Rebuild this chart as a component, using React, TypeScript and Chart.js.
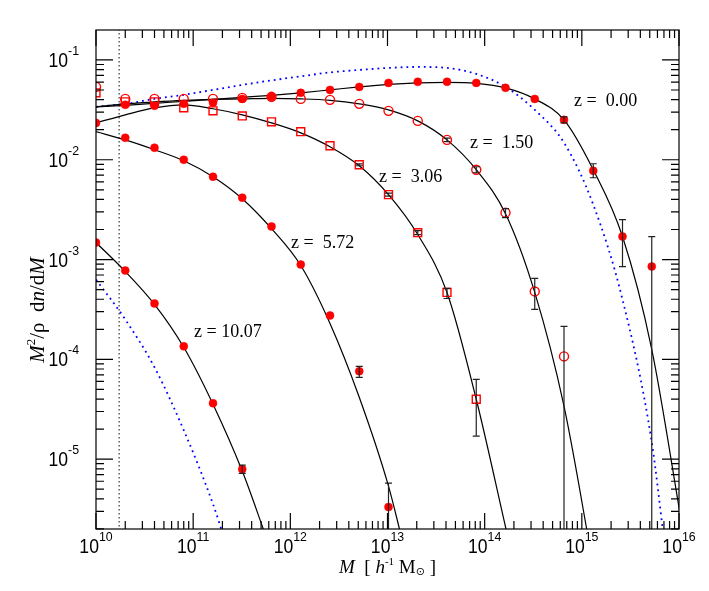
import React, { useEffect, useRef } from 'react';
import { Chart, registerables } from 'chart.js';

Chart.register(...registerables);

// ---------- data ----------
const massBins = [1e10, 2e10, 4e10, 8e10, 1.6e11, 3.2e11, 6.4e11, 1.28e12, 2.56e12, 5.12e12, 1.024e13, 2.048e13, 4.096e13, 8.192e13, 1.6384e14, 3.2768e14, 6.5536e14, 1.31072e15, 2.62144e15, 5.24288e15, 1.048576e16];

// simulation points (aligned with massBins)
const simZ000 = [null, 0.0355, 0.0347, 0.0363, 0.0372, 0.0407, 0.0427, 0.0468, 0.0501, 0.0537, 0.0589, 0.0603, 0.0603, 0.0589, 0.0525, 0.0407, 0.0251, 0.00776, 0.0017, 0.000851, null];
const simZ150 = [0.0537, 0.0407, 0.0407, 0.0407, 0.0407, 0.0417, 0.0427, 0.0407, 0.0398, 0.0363, 0.0309, 0.0245, 0.0158, 0.00794, 0.00295, 0.000479, 0.000107, null, null, null, null];
const simZ306 = [0.0468, 0.038, 0.038, 0.0331, 0.0309, 0.0275, 0.024, 0.0191, 0.0138, 0.00891, 0.00447, 0.00186, 0.000468, 0.0000398, null, null, null, null, null, null, null];
const simZ572 = [0.0234, 0.0166, 0.0132, 0.01, 0.00676, 0.00417, 0.00214, 0.000891, 0.000275, 0.0000759, 0.00000331, null, null, null, null, null, null, null, null, null, null];
const simZ1007 = [0.00148, 0.000776, 0.000363, 0.000135, 0.0000363, 0.00000794, null, null, null, null, null, null, null, null, null, null, null, null, null, null, null];

// error bars: [bin index, low, high]
const errZ000: [number, number, number][] = [[16, 0.0234, 0.0269], [17, 0.0066, 0.00912], [18, 0.000851, 0.00251], [19, 1e-9, 0.0017]];
const errZ150: [number, number, number][] = [[12, 0.0152, 0.0165], [13, 0.00741, 0.00851], [14, 0.00263, 0.00324], [15, 0.000316, 0.000646], [16, 1e-9, 0.000214]];
const errZ306: [number, number, number][] = [[9, 0.0087, 0.0091], [10, 0.00432, 0.00462], [11, 0.00178, 0.00195], [12, 0.000407, 0.000513], [13, 0.000017, 0.0000631]];
const errZ572: [number, number, number][] = [[9, 0.000066, 0.000085], [10, 1e-9, 0.00000575]];
const errZ1007: [number, number, number][] = [[5, 0.0000072, 0.0000087]];

// model curves (solid black)
const fitMassZ000 = massBins;
const fitZ000 = [0.0339, 0.0351, 0.0367, 0.0385, 0.0403, 0.0422, 0.0442, 0.0468, 0.0501, 0.0537, 0.0569, 0.0589, 0.0596, 0.0582, 0.0525, 0.0407, 0.0251, 0.00794, 0.0017, 0.000126, 0.00000251];
const fitMassZ150 = [1e10, 2e10, 4e10, 8e10, 1.6e11, 3.2e11, 6.4e11, 1.28e12, 2.56e12, 5.12e12, 1.024e13, 2.048e13, 4.096e13, 8.192e13, 1.6384e14, 3.2768e14, 6.5536e14, 1.31072e15];
const fitZ150 = [0.0339, 0.0363, 0.038, 0.0394, 0.0403, 0.0407, 0.0412, 0.0407, 0.0394, 0.0363, 0.0316, 0.0245, 0.0158, 0.00794, 0.00288, 0.000468, 0.0000339, 0.00000085];
const fitMassZ306 = [1e10, 2e10, 4e10, 8e10, 1.6e11, 3.2e11, 6.4e11, 1.28e12, 2.56e12, 5.12e12, 1.024e13, 2.048e13, 4.096e13, 8.192e13, 1.6384e14, 3.2768e14];
const fitZ306 = [0.0234, 0.0282, 0.0331, 0.0355, 0.0324, 0.0282, 0.0234, 0.0186, 0.0135, 0.00871, 0.00447, 0.00178, 0.000468, 0.0000398, 0.0000021, 0.00000011];
const fitMassZ572 = [1e10, 2e10, 4e10, 8e10, 1.6e11, 3.2e11, 6.4e11, 1.28e12, 2.56e12, 5.12e12, 1.024e13, 1.41e13];
const fitZ572 = [0.0191, 0.0158, 0.0126, 0.00977, 0.00676, 0.00407, 0.00204, 0.000871, 0.000229, 0.0000417, 0.00000537, 0.00000158];
const fitMassZ1007 = [1e10, 2e10, 4e10, 8e10, 1.6e11, 3.2e11, 5.5e11];
const fitZ1007 = [0.00148, 0.000759, 0.000355, 0.000132, 0.0000355, 0.00000759, 0.00000178];

// Press-Schechter curves (blue dotted)
const psMassZ000 = [1e10, 2e10, 4e10, 8e10, 1.6e11, 3.2e11, 6.4e11, 1.28e12, 2.56e12, 5.12e12, 1.024e13, 2.048e13, 4.096e13, 8.192e13, 1.6384e14, 3.2768e14, 6.5536e14, 1.31072e15, 2.62144e15, 5.24288e15, 7e15];
const psZ000 = [0.0339, 0.0363, 0.0407, 0.0447, 0.0501, 0.0562, 0.0624, 0.0684, 0.075, 0.0794, 0.0832, 0.0851, 0.0832, 0.0724, 0.0537, 0.0316, 0.0148, 0.00355, 0.000398, 0.0000148, 0.00000158];
const psMassZ1007 = [1e10, 2e10, 4e10, 8e10, 1.6e11, 2.1e11];
const psZ1007 = [0.000631, 0.000251, 0.0000832, 0.0000195, 0.00000355, 0.00000158];

// resolution limit (vertical dotted line)
const resolutionMass = 1.73e10;

// axes
const xMin = 1e10;
const xMax = 1e16;
const yMin = 1.995e-6;
const yMax = 0.1995;
const xMajorTicks = [1e10, 1e11, 1e12, 1e13, 1e14, 1e15, 1e16];
const xTickExponents = ['10', '11', '12', '13', '14', '15', '16'];
const yMajorTicks = [1e-5, 1e-4, 1e-3, 1e-2, 1e-1];
const yTickExponents = ['-5', '-4', '-3', '-2', '-1'];
const yMinorDecades = [1e-6, 1e-5, 1e-4, 1e-3, 1e-2, 1e-1];
const minorMultipliers = [2, 3, 4, 5, 6, 7, 8, 9];

const redshiftLabels = ['z =  0.00', 'z =  1.50', 'z =  3.06', 'z =  5.72', 'z = 10.07'];

// ---------- helpers ----------
type Seg = { t: string; f: string; dy?: number; sx?: number };

function richWidth(ctx: CanvasRenderingContext2D, segs: Seg[]) {
  let w = 0;
  for (const s of segs) {
    ctx.font = s.f;
    w += ctx.measureText(s.t).width * (s.sx ?? 1);
  }
  return w;
}

function drawRich(ctx: CanvasRenderingContext2D, segs: Seg[], x: number, y: number, align: 'left' | 'center' | 'right') {
  const w = richWidth(ctx, segs);
  let cx = align === 'left' ? x : align === 'center' ? x - w / 2 : x - w;
  for (const s of segs) {
    ctx.font = s.f;
    const sx = s.sx ?? 1;
    const mw = ctx.measureText(s.t).width;
    ctx.save();
    ctx.translate(cx, y + (s.dy ?? 0));
    ctx.scale(sx, 1);
    ctx.fillText(s.t, 0, 0);
    ctx.restore();
    cx += mw * sx;
  }
}

const pts = (xs: number[], ys: (number | null)[]) =>
  xs.map((x, i) => ({ x, y: ys[i] })).filter((p) => p.y !== null) as { x: number; y: number }[];

const SANS = '"Liberation Sans", Arial, sans-serif';
const SERIF = '"Liberation Serif", "Times New Roman", serif';

const powLabel = (exp: string): Seg[] => [
  { t: '10', f: `20px ${SANS}`, sx: 0.88 },
  { t: exp, f: `13px ${SANS}`, sx: 0.95, dy: -12 },
];

const errorSets = [errZ000, errZ150, errZ306, errZ572, errZ1007];

const errorBarPlugin = {
  id: 'errorBars',
  afterDatasetsDraw(chart: any) {
    const { ctx, chartArea: a } = chart;
    const xs = chart.scales.x;
    const ys = chart.scales.y;
    ctx.save();
    ctx.beginPath();
    ctx.rect(a.left, a.top, a.right - a.left, a.bottom - a.top);
    ctx.clip();
    ctx.strokeStyle = '#222';
    ctx.lineWidth = 1.2;
    for (const set of errorSets) {
      for (const [i, lo, hi] of set) {
        const px = xs.getPixelForValue(massBins[i]);
        const p1 = ys.getPixelForValue(lo);
        const p2 = ys.getPixelForValue(hi);
        ctx.beginPath();
        ctx.moveTo(px, p1);
        ctx.lineTo(px, p2);
        ctx.moveTo(px - 3.5, p1);
        ctx.lineTo(px + 3.5, p1);
        ctx.moveTo(px - 3.5, p2);
        ctx.lineTo(px + 3.5, p2);
        ctx.stroke();
      }
    }
    ctx.restore();
  },
};

const framePlugin = {
  id: 'frameTicks',
  afterDraw(chart: any) {
    const { ctx, chartArea } = chart;
    const { left, right, top, bottom } = chartArea;
    const xs = chart.scales.x;
    const ys = chart.scales.y;
    ctx.save();
    ctx.strokeStyle = '#000';
    ctx.lineWidth = 1.2;
    ctx.strokeRect(left, top, right - left, bottom - top);
    ctx.beginPath();
    // x ticks
    for (const v of xMajorTicks) {
      const px = xs.getPixelForValue(v);
      ctx.moveTo(px, bottom); ctx.lineTo(px, bottom - 16);
      ctx.moveTo(px, top); ctx.lineTo(px, top + 16);
      for (const m of minorMultipliers) {
        const val = v * m;
        if (val > xMax * 1.0001) continue;
        const pm = xs.getPixelForValue(val);
        ctx.moveTo(pm, bottom); ctx.lineTo(pm, bottom - 8);
        ctx.moveTo(pm, top); ctx.lineTo(pm, top + 8);
      }
    }
    // y ticks
    for (const v of yMajorTicks) {
      const py = ys.getPixelForValue(v);
      ctx.moveTo(left, py); ctx.lineTo(left + 17, py);
      ctx.moveTo(right, py); ctx.lineTo(right - 17, py);
    }
    for (const d of yMinorDecades) {
      for (const m of minorMultipliers) {
        const val = d * m;
        if (val < yMin || val > yMax) continue;
        const py = ys.getPixelForValue(val);
        ctx.moveTo(left, py); ctx.lineTo(left + 8, py);
        ctx.moveTo(right, py); ctx.lineTo(right - 8, py);
      }
    }
    ctx.stroke();

    // tick labels
    ctx.fillStyle = '#000';
    ctx.textAlign = 'left';
    ctx.textBaseline = 'alphabetic';
    xMajorTicks.forEach((v, i) => {
      const px = xs.getPixelForValue(v);
      drawRich(ctx, powLabel(xTickExponents[i]), px, bottom + 24, 'center');
    });
    yMajorTicks.forEach((v, i) => {
      const py = ys.getPixelForValue(v);
      drawRich(ctx, powLabel(yTickExponents[i]), left - 17, py + 7, 'right');
    });

    // x title
    const cxm = (left + right) / 2;
    drawRich(
      ctx,
      [
        { t: 'M', f: `italic 19px ${SERIF}` },
        { t: '  [ ', f: `19px ${SERIF}` },
        { t: 'h', f: `italic 19px ${SERIF}` },
        { t: '-1', f: `11px ${SERIF}`, dy: -8 },
        { t: ' M', f: `19px ${SERIF}` },
        { t: '\u2299', f: `11px "DejaVu Sans", sans-serif`, dy: 2 },
        { t: ' ]', f: `19px ${SERIF}` },
      ],
      cxm,
      bottom + 44,
      'center'
    );

    // y title
    ctx.save();
    ctx.translate(left - 52, top + 280);
    ctx.rotate(-Math.PI / 2);
    drawRich(
      ctx,
      [
        { t: 'M', f: `italic 21px ${SERIF}` },
        { t: '2', f: `13px ${SERIF}`, dy: -9 },
        { t: '/\u03C1  d', f: `21px ${SERIF}` },
        { t: 'n', f: `italic 21px ${SERIF}` },
        { t: '/d', f: `21px ${SERIF}` },
        { t: 'M', f: `italic 21px ${SERIF}` },
      ],
      0,
      0,
      'center'
    );
    ctx.restore();

    // redshift labels
    const labelPos = [
      [478, 71],
      [374, 113],
      [283, 147],
      [195, 213],
      [98, 302],
    ];
    ctx.font = `18px ${SERIF}`;
    ctx.textBaseline = 'middle';
    redshiftLabels.forEach((t, i) => {
      ctx.fillText(t, left + labelPos[i][0], top + labelPos[i][1]);
    });
    ctx.restore();
  },
};

export default function App() {
  const ref = useRef<HTMLCanvasElement | null>(null);
  useEffect(() => {
    if (!ref.current) return;
    const red = '#ff0000';
    const curve = (xs: number[], ys: number[]) => ({
      data: pts(xs, ys),
      showLine: true,
      borderColor: '#000',
      borderWidth: 1.2,
      pointRadius: 0,
      cubicInterpolationMode: 'monotone' as const,
      order: 5,
    });
    const blue = (xs: number[], ys: number[]) => ({
      data: pts(xs, ys),
      showLine: true,
      borderColor: '#0000ff',
      borderWidth: 1.8,
      borderDash: [1.8, 4],
      pointRadius: 0,
      cubicInterpolationMode: 'monotone' as const,
      order: 6,
    });
    const filled = (ys: (number | null)[]) => ({
      data: pts(massBins, ys),
      pointStyle: 'circle',
      pointRadius: 4,
      pointBackgroundColor: red,
      pointBorderColor: red,
      pointBorderWidth: 0.5,
      order: 0,
    });
    const chart = new Chart(ref.current, {
      type: 'scatter',
      data: {
        datasets: [
          // markers
          filled(simZ000) as any,
          { data: pts(massBins, simZ150), pointStyle: 'circle', pointRadius: 4.5, pointBackgroundColor: 'rgba(0,0,0,0)', pointBorderColor: red, pointBorderWidth: 1.4, order: 0 },
          { data: pts(massBins, simZ306), pointStyle: 'rect', pointRadius: 5.6, pointBackgroundColor: 'rgba(0,0,0,0)', pointBorderColor: red, pointBorderWidth: 1.4, order: 0 },
          filled(simZ572),
          filled(simZ1007),
          // fits
          curve(fitMassZ000, fitZ000),
          curve(fitMassZ150, fitZ150),
          curve(fitMassZ306, fitZ306),
          curve(fitMassZ572, fitZ572),
          curve(fitMassZ1007, fitZ1007),
          // PS
          blue(psMassZ000, psZ000),
          blue(psMassZ1007, psZ1007),
          // resolution line
          {
            data: [{ x: resolutionMass, y: 1e-8 }, { x: resolutionMass, y: 1 }],
            showLine: true,
            borderColor: '#444',
            borderWidth: 1.3,
            borderDash: [1.5, 2.5],
            pointRadius: 0,
            order: 7,
          },
        ],
      },
      options: {
        responsive: false,
        animation: false,
        events: [],
        layout: { padding: { left: 88, right: 22, top: 22, bottom: 54 } },
        plugins: { legend: { display: false }, tooltip: { enabled: false } },
        scales: {
          x: { type: 'logarithmic', min: xMin, max: xMax, display: false },
          y: { type: 'logarithmic', min: yMin, max: yMax, display: false },
        },
      },
      plugins: [errorBarPlugin, framePlugin],
    });
    return () => chart.destroy();
  }, []);
  return (
    <div style={{ width: 693, height: 575 }}>
      <canvas ref={ref} width={693} height={575} style={{ display: 'block', width: 693, height: 575 }} />
    </div>
  );
}
